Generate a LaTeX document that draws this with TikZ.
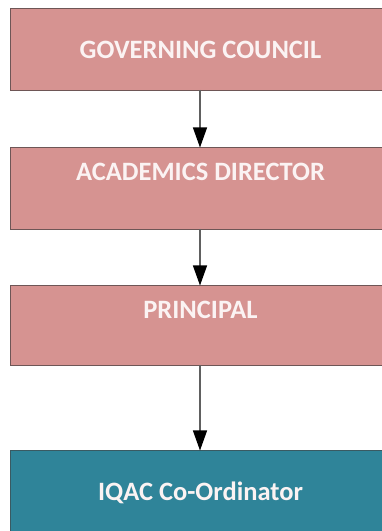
\documentclass[tikz,border=0pt]{standalone}
\usepackage{fontspec}
\setmainfont{Carlito}
\usetikzlibrary{arrows.meta}
\definecolor{boxpink}{HTML}{D69391}
\definecolor{boxteal}{HTML}{2F8499}
\definecolor{edgepink}{HTML}{6E5656}
\definecolor{edgeteal}{HTML}{3A5A62}
\definecolor{txtw}{HTML}{FBF3F3}
\definecolor{lineg}{HTML}{606060}
\tikzset{
  pinkbox/.style={draw=edgepink, line width=1.3pt, fill=boxpink, rectangle, anchor=north west, inner sep=0pt},
  tealbox/.style={draw=edgeteal, line width=1.3pt, fill=boxteal, rectangle, anchor=north west, inner sep=0pt},
  lbl/.style={text=txtw, font=\bfseries\fontsize{26.5}{30}\selectfont, inner sep=0pt},
  conn/.style={draw=lineg, line width=1.2pt, -{Triangle[length=20pt,width=14pt,color=black]}, shorten >=-0.5pt}
}
\begin{document}
\begin{tikzpicture}[x=1pt,y=1pt]
\useasboundingbox (0,0) rectangle (382,531);
\clip (0,0) rectangle (382,531);
\fill[white] (0,0) rectangle (382,531);
\node[pinkbox, minimum width=390pt, minimum height=82pt] (b1) at (9.5,523) {};
\node[pinkbox, minimum width=390pt, minimum height=82pt] (b2) at (9.5,384) {};
\node[pinkbox, minimum width=390pt, minimum height=80pt] (b3) at (9.5,246) {};
\node[tealbox, minimum width=390pt, minimum height=100pt] (b4) at (9.5,81) {};
\node[lbl] (t1) at (200.5,481) {GOVERNING COUNCIL};
\node[lbl] (t2) at (200.5,359) {ACADEMICS DIRECTOR};
\node[lbl] (t3) at (200.5,221) {PRINCIPAL};
\node[lbl] (t4) at (200.5,38) {IQAC Co-Ordinator};
\coordinate (a1s) at (200,441);
\coordinate (a1e) at (200,384);
\coordinate (a2s) at (200,302);
\coordinate (a2e) at (200,246);
\coordinate (a3s) at (200,166);
\coordinate (a3e) at (200,81);
\draw[conn] (a1s) -- (a1e);
\draw[conn] (a2s) -- (a2e);
\draw[conn] (a3s) -- (a3e);
\end{tikzpicture}
\end{document}
